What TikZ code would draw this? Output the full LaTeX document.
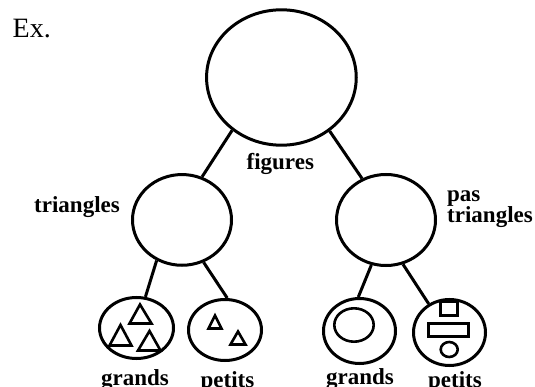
\documentclass[tikz,border=0pt]{standalone}
\usepackage{fontspec}
\setmainfont{Liberation Serif}
\usetikzlibrary{shapes.geometric}

\tikzset{
  setnode/.style={ellipse, draw, line width=3pt, inner sep=0pt},
  edge/.style={line width=3pt},
  inner/.style={line width=2.6pt, line join=miter},
  lbl/.style={font=\fontsize{23}{18}\selectfont\bfseries, inner sep=0pt, anchor=base},
}

\begin{document}
\begin{tikzpicture}[x=1pt, y=-1pt]
  \clip (0,0) rectangle (535,387);

  % Heading
  \node[font=\fontsize{28}{32}\selectfont, inner sep=0pt, anchor=base west] (ex) at (12.5,37.3) {Ex.};

  % Tree of sets
  \node[setnode, minimum width=149.7pt, minimum height=135.4pt] (root) at (281.4,77.5) {};
  \node[setnode, minimum width=99pt, minimum height=90.7pt] (tri) at (182,219.9) {};
  \node[setnode, minimum width=99pt, minimum height=91pt] (ntri) at (386,220) {};
  \node[setnode, minimum width=74pt, minimum height=61pt] (tg) at (136.5,328) {};
  \node[setnode, minimum width=73pt, minimum height=61pt] (tp) at (225,330) {};
  \node[setnode, minimum width=72pt, minimum height=65pt] (ng) at (359.5,331) {};
  \node[setnode, minimum width=72pt, minimum height=66pt] (np) at (449.5,332.5) {};

  % Branches
  \draw[edge] (root.227.4) -- (tri.65.4);
  \draw[edge] (root.312.7) -- (ntri.120);
  \draw[edge] (tri.238.3) -- (tg.74.7);
  \draw[edge] (tri.297.4) -- (tp.86.7);
  \draw[edge] (ntri.252.3) -- (ng.92.5);
  \draw[edge] (ntri.291.7) -- (np.126);

  % Labels
  \node[lbl] (lfig) at (280.3,170) {figures};
  \node[lbl] (ltri) at (77,213) {triangles};
  \node[lbl, anchor=base west, align=left] (lntri) at (447,223) {pas\\triangles};
  \node[lbl] (ltg) at (135,385.5) {grands};
  \node[lbl] (ltp) at (227.5,387) {petits};
  \node[lbl] (lng) at (360,384.5) {grands};
  \node[lbl] (lnp) at (455,387.5) {petits};

  % Big triangles
  \draw[inner] (140,304.5) -- (129.5,323.5) -- (151.5,323.5) -- cycle;
  \draw[inner] (120.5,325) -- (109.5,345.5) -- (131.5,345.5) -- cycle;
  \draw[inner] (149.5,331) -- (138,350.5) -- (160.5,350.5) -- cycle;

  % Small triangles
  \draw[inner] (215,315.5) -- (208.5,328.5) -- (221.5,328.5) -- cycle;
  \draw[inner] (238,331.5) -- (230.5,344.5) -- (245.5,344.5) -- cycle;

  % Large non-triangle: a circle
  \draw[inner] (354,325) ellipse [x radius=19.7, y radius=16.7];

  % Small non-triangles: square, rectangle, circle
  \draw[inner] (440.5,301.5) rectangle (457.5,315.5);
  \draw[inner] (428.5,323.5) rectangle (468.5,336.5);
  \draw[inner] (449.2,349.5) ellipse [x radius=8.5, y radius=7.5];
\end{tikzpicture}
\end{document}
